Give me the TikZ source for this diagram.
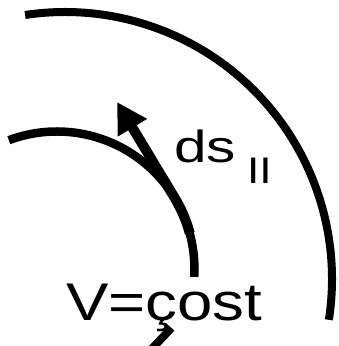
\documentclass[tikz,border=0pt]{standalone}
\usepackage{fontspec}
\usepackage{graphicx}
\setmainfont{Liberation Sans}
\usetikzlibrary{arrows.meta,calc}
\begin{document}
\begin{tikzpicture}[x=1pt,y=1pt,
  curve/.style={line width=8pt, line cap=butt},
  shaft/.style={line width=10pt, -{Triangle[length=30pt,width=32pt]}},
  lbl/.style={inner sep=0pt, outer sep=0pt, anchor=base west}]
\useasboundingbox (0,0) rectangle (338,346);
\clip (0,0) rectangle (338,346);
% outer equipotential arc
\coordinate (oc) at (65,67);
\draw[curve] (25.1,331) arc[start angle=98.6, end angle=-8.8, radius=267];
% inner equipotential arc
\coordinate (ic) at (57,77);
\draw[curve, line width=8.5pt] (8.8,205.8) arc[start angle=110.5, end angle=-3.3, radius=137.5];
% arrow ds
\coordinate (tip) at (117,244);
\draw[shaft] ($(ic)+(15:137.5)$) arc[start angle=15, end angle=31, radius=137.5] -- (tip);
% stroke at bottom
\coordinate (sa) at (171.5,18);
\coordinate (sb) at (143,-12);
\draw[line width=8pt] (sa) -- (sb);
% labels
\node[lbl] (ds) at (174,183) {\fontsize{45}{50}\selectfont\scalebox{1.3}[1]{ds}};
\node[lbl] (par) at (247,162) {\fontsize{37}{40}\selectfont\scalebox{1.2}[1]{II}};
\node[lbl] (v) at (66,25) {\fontsize{53}{60}\selectfont\scalebox{1.2}[1]{V=çost}};
\end{tikzpicture}
\end{document}
